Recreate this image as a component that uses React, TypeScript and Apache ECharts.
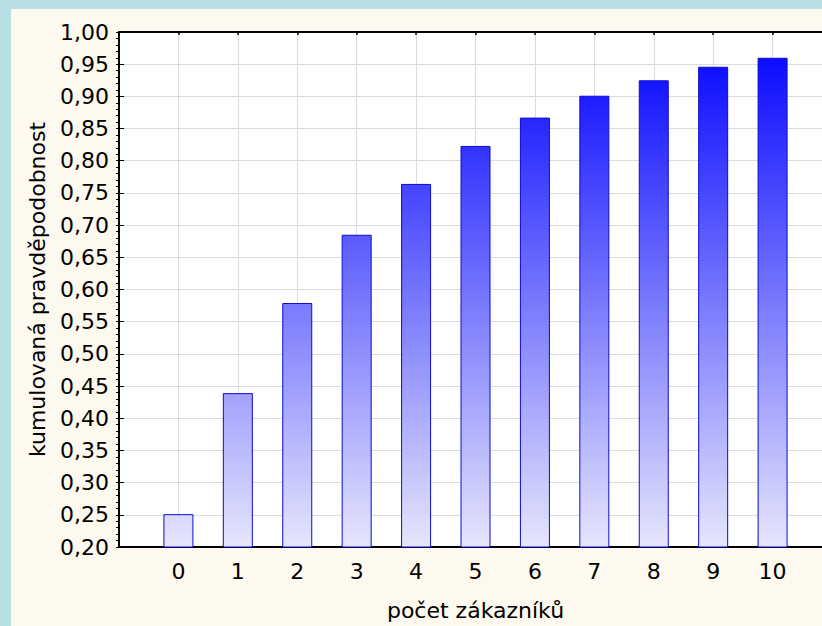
import React, { useEffect, useRef } from "react";
import * as echarts from "echarts";

const categories = [0, 1, 2, 3, 4, 5, 6, 7, 8, 9, 10];
const cumulativeProb = [0.251, 0.439, 0.579, 0.685, 0.764, 0.823, 0.867, 0.901, 0.925, 0.946, 0.96];
const xTitle = "počet zákazníků";
const yTitle = "kumulovaná pravděpodobnost";

const FONT = "DejaVu Sans";
const FS = 22;

export default function App() {
  const ref = useRef<HTMLDivElement>(null);

  useEffect(() => {
    if (!ref.current) return;
    const chart = echarts.init(ref.current, undefined, { renderer: "svg" });
    const gridTop = 23;
    const gridBottom = 79;
    const h = ref.current.clientHeight;
    const grad = new echarts.graphic.LinearGradient(
      0,
      gridTop,
      0,
      h - gridBottom,
      [
        { offset: 0, color: "#0000ff" },
        { offset: 1, color: "#e6e6fc" },
      ],
      true
    );
    const axisLineStyle = { color: "#000", width: 2 };
    chart.setOption({
      animation: false,
      textStyle: { fontFamily: FONT },
      grid: {
        left: 108,
        top: gridTop,
        right: 0,
        bottom: gridBottom,
        show: true,
        backgroundColor: "#ffffff",
        borderWidth: 0,
        containLabel: false,
        outerBoundsMode: "none",
      },
      xAxis: [
        {
          type: "value",
          position: "bottom",
          min: -1,
          max: 11,
          interval: 1,
          name: xTitle,
          nameLocation: "middle",
          nameGap: 52,
          nameTextStyle: { fontSize: FS, color: "#000", fontFamily: FONT },
          axisLine: { show: true, onZero: false, lineStyle: axisLineStyle },
          axisTick: { show: true, inside: true, length: 4, lineStyle: { color: "#000", width: 1.5 } },
          axisLabel: {
            show: true,
            margin: 13,
            fontSize: FS,
            color: "#000",
            fontFamily: FONT,
            formatter: (v: number) => (categories.includes(v) ? String(v) : ""),
          },
          splitLine: { show: true, lineStyle: { color: "#dcdcdc", width: 1 } },
        },
        {
          type: "value",
          position: "top",
          min: -1,
          max: 11,
          interval: 1,
          axisLine: { show: true, onZero: false, lineStyle: axisLineStyle },
          axisTick: { show: true, inside: true, length: 3, lineStyle: { color: "#000", width: 1.5 } },
          axisLabel: { show: false },
          splitLine: { show: false },
        },
      ],
      yAxis: [
        {
          type: "value",
          position: "left",
          min: 0.2,
          max: 1.0,
          interval: 0.05,
          name: yTitle,
          nameLocation: "middle",
          nameGap: 71,
          nameTextStyle: { fontSize: FS, color: "#000", fontFamily: FONT },
          axisLine: { show: true, onZero: false, lineStyle: axisLineStyle },
          axisTick: { show: true, inside: true, length: 5, lineStyle: { color: "#000", width: 1 } },
          axisLabel: {
            margin: 10,
            fontSize: FS,
            color: "#000",
            fontFamily: FONT,
            formatter: (v: number) => v.toFixed(2).replace(".", ","),
          },
          splitLine: { show: true, lineStyle: { color: "#dcdcdc", width: 1 } },
        },
        {
          type: "value",
          position: "left",
          offset: 0,
          min: 0.2,
          max: 1.0,
          interval: 0.01,
          axisLine: { show: false, onZero: false },
          axisTick: { show: true, inside: false, length: 3, lineStyle: { color: "#000", width: 1 } },
          axisLabel: { show: false },
          splitLine: { show: false },
        },
      ],
      series: [
        {
          type: "bar",
          xAxisIndex: 0,
          yAxisIndex: 0,
          barWidth: 30,
          data: categories.map((c, i) => [c, cumulativeProb[i]]),
          itemStyle: {
            color: grad,
            borderColor: "#0c0cd0",
            borderWidth: 1,
          },
        },
      ],
    });
    return () => chart.dispose();
  }, []);

  return (
    <div
      style={{
        position: "fixed",
        left: 0,
        top: 0,
        width: 822,
        height: 626,
        background: "#b8dfe3",
        overflow: "hidden",
      }}
    >
      <div
        ref={ref}
        style={{
          position: "absolute",
          left: 11,
          top: 9,
          width: 821,
          height: 617,
          background: "#fdf9ef",
        }}
      />
    </div>
  );
}
